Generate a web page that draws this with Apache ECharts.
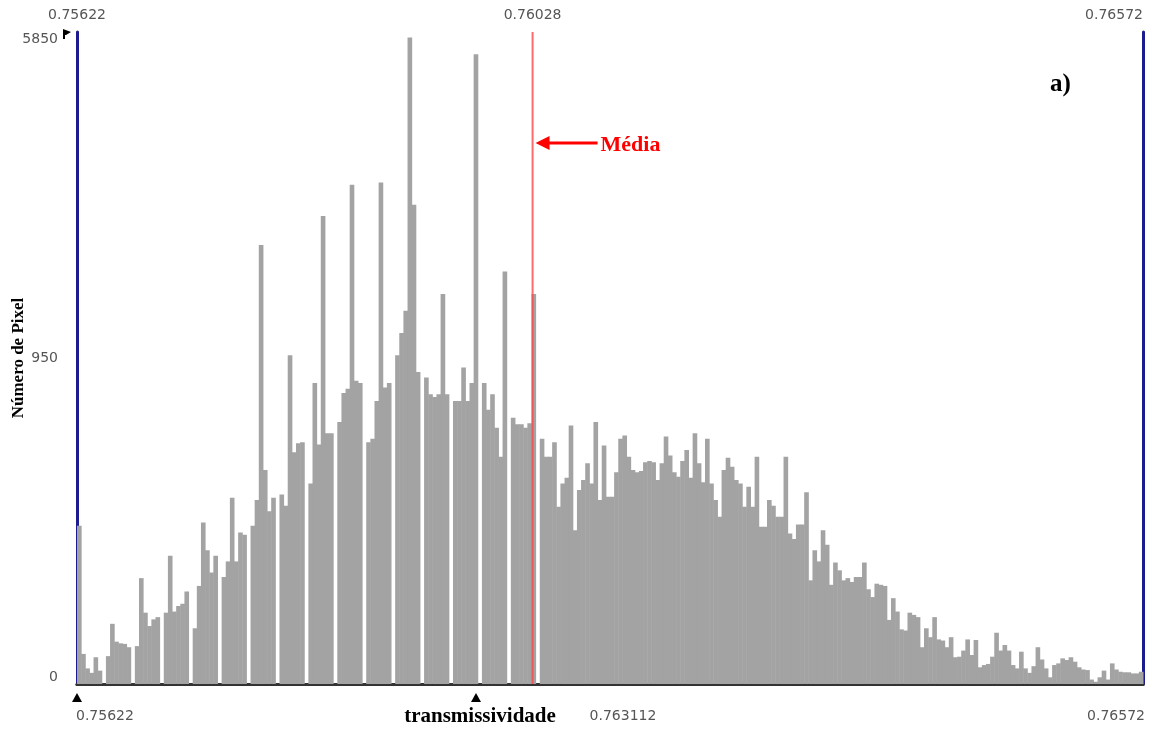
<!DOCTYPE html>
<html>
<head>
<meta charset="utf-8">
<title>Histograma de transmissividade</title>
<script src="https://cdn.jsdelivr.net/npm/echarts@6/dist/echarts.min.js"></script>
<style>
  html, body { margin: 0; padding: 0; background: #fff; }
  #main { width: 1159px; height: 733px; }
</style>
</head>
<body>
<div id="main"></div>
<script>
// histogram range and mean (transmissividade)
const xMin = 0.75622
const xMax = 0.76572
const xMean = 0.76028

// pixel counts per bin (left part: 6 bins + empty bin per tooth)
const pixelCounts = [
    1420, 270, 140, 100, 240, 120, 0,
    250, 540, 380, 365, 360, 330, 0,
    340, 950, 640, 520, 580, 600, 0,
    640, 1150, 650, 700, 720, 830, 0,
    500, 880, 1450, 1200, 1000, 1150, 0,
    960, 1100, 1670, 1100, 1360, 1340, 0,
    1420, 1650, 3940, 1920, 1550, 1670, 0,
    1700, 1600, 2950, 2080, 2160, 2170, 0,
    1800, 2700, 2150, 4200, 2250, 2250, 0,
    2350, 2610, 2650, 4480, 2720, 2700, 0,
    2170, 2200, 2540, 4500, 2660, 2700, 0,
    2950, 3150, 3350, 5800, 4300, 2800, 0,
    2750, 2600, 2575, 2600, 3500, 2600, 0,
    2540, 2540, 2840, 2540, 2700, 5650, 0,
    2700, 2460, 2600, 2300, 2040, 3700, 0,
    2390, 2330, 2330, 2300, 2340, 3500, 0,
    2200, 2040, 2040, 2170, 1590, 1800, 1850, 2320, 1380, 1740,
    1830, 1980, 1800, 2350, 1650, 2140, 1680, 1680, 1900, 2200,
    2230, 2040, 1920, 1900, 1910, 1990, 2000, 1990, 1830, 1980,
    2220, 2050, 1900, 1860, 2000, 2100, 1850, 2250, 1980, 1810,
    2200, 1800, 1650, 1500, 1920, 2030, 1950, 1830, 1800, 1590,
    1770, 1590, 2040, 1410, 1410, 1650, 1600, 1500, 1500, 2040,
    1350, 1300, 1430, 1430, 1720, 930, 1200, 1100, 1380, 1250,
    890, 1090, 1020, 930, 950, 915, 960, 960, 1090, 850,
    780, 900, 890, 880, 575, 770, 650, 490, 480, 640,
    620, 600, 330, 500, 420, 600, 400, 390, 330, 420,
    240, 245, 300, 400, 260, 395, 150, 170, 180, 245,
    460, 300, 350, 300, 170, 140, 290, 140, 100, 160,
    330, 220, 140, 60, 170, 185, 230, 215, 240, 200,
    150, 130, 125, 40, 20, 60, 120, 40, 185, 130,
    110, 105, 105, 95, 95, 110
]

const topTickValues = [0.75622, 0.76028, 0.76572]
const topTickLabels = ['0.75622', '0.76028', '0.76572']
const bottomTickLabels = ['0.75622', '0.763112', '0.76572']
const yMax = 5850
const yInterval = 2925
const yTickLabels = ['0', '950', '5850']

const binWidth = (xMax - xMin) / pixelCounts.length
const bins = pixelCounts.map(function (c, i) {
    return [xMin + i * binWidth, xMin + (i + 1) * binWidth, c]
})

const labelFont = { fontFamily: 'DejaVu Sans', fontSize: 14, color: '#555' }
const serifBold = { fontFamily: 'Liberation Serif', fontWeight: 'bold' }

function renderBin(params, api) {
    const p0 = api.coord([api.value(0), api.value(2)])
    const p1 = api.coord([api.value(1), 0])
    return {
        type: 'rect',
        shape: { x: p0[0], y: p0[1], width: p1[0] - p0[0] + 0.5, height: p1[1] - p0[1] },
        style: { fill: '#a3a3a3' }
    }
}

const myChart = echarts.init(document.getElementById('main'))

const option = {
    animation: false,
    backgroundColor: '#fff',
    grid: { left: 77, right: 16, top: 32, bottom: 49, containLabel: false, outerBoundsMode: 'none' },
    xAxis: [
        {
            type: 'value',
            min: xMin,
            max: xMax,
            position: 'bottom',
            axisLine: { show: true, lineStyle: { color: '#333', width: 3 } },
            axisTick: { show: false },
            axisLabel: { show: false },
            splitLine: { show: false }
        },
        {
            type: 'value',
            min: xMin,
            max: xMax,
            position: 'top',
            axisLine: { show: true, lineStyle: { color: '#333', width: 3 } },
            axisTick: { show: false },
            splitLine: { show: false },
            axisLabel: {
                customValues: topTickValues,
                margin: 10,
                alignMaxLabel: 'right',
                formatter: function (v) {
                    const i = topTickValues.indexOf(v)
                    return i >= 0 ? topTickLabels[i] : ''
                },
                ...labelFont
            }
        }
    ],
    yAxis: [
        {
            type: 'value',
            min: 0,
            max: yMax,
            interval: yInterval,
            position: 'left',
            name: 'Número de Pixel',
            nameLocation: 'middle',
            nameRotate: 90,
            nameGap: 50,
            nameMoveOverlap: false,
            nameTextStyle: { ...serifBold, fontSize: 17, color: '#000' },
            axisLine: { show: true, lineStyle: { color: '#1c1c8f', width: 3 } },
            axisTick: { show: false },
            splitLine: { show: false },
            axisLabel: {
                margin: 19,
                verticalAlignMinLabel: 'bottom',
                verticalAlignMaxLabel: 'top',
                formatter: function (v) {
                    return yTickLabels[Math.round(v / yInterval)]
                },
                ...labelFont
            }
        },
        {
            type: 'value',
            min: 0,
            max: yMax,
            position: 'right',
            axisLine: { show: true, lineStyle: { color: '#1c1c8f', width: 3 } },
            axisTick: { show: false },
            axisLabel: { show: false },
            splitLine: { show: false }
        }
    ],
    series: [
        {
            name: 'pixels',
            type: 'custom',
            xAxisIndex: 0,
            yAxisIndex: 0,
            renderItem: renderBin,
            encode: { x: [0, 1], y: 2 },
            data: bins,
            z: 2
        },
        {
            name: 'media',
            type: 'line',
            xAxisIndex: 0,
            yAxisIndex: 0,
            data: [[xMean, 0], [xMean, yMax]],
            symbol: 'none',
            lineStyle: { color: 'rgba(255, 70, 70, 0.8)', width: 2 },
            z: 3
        }
    ]
}

myChart.setOption(option)

// annotations placed after the scales are known
const meanPx = myChart.convertToPixel({ xAxisIndex: 0 }, xMean)
const startPx = myChart.convertToPixel({ xAxisIndex: 0 }, xMin)
const endPx = myChart.convertToPixel({ xAxisIndex: 0 }, xMax)
const basePx = myChart.convertToPixel({ yAxisIndex: 0 }, 0)
const arrowY = 143

myChart.setOption({
    graphic: [
        // arrow pointing at the mean
        { type: 'line', shape: { x1: meanPx + 12, y1: arrowY, x2: meanPx + 65, y2: arrowY },
          style: { stroke: '#ff0000', lineWidth: 3 } },
        { type: 'polygon', shape: { points: [[meanPx + 3, arrowY], [meanPx + 17, arrowY - 7], [meanPx + 17, arrowY + 7]] },
          style: { fill: '#ff0000' } },
        { type: 'text', x: meanPx + 68, y: arrowY + 2,
          style: { text: 'Média', ...serifBold, fontSize: 22, fill: '#ff0000', verticalAlign: 'middle' } },
        { type: 'text', x: 1050, y: 85,
          style: { text: 'a)', ...serifBold, fontSize: 25, fill: '#000', verticalAlign: 'middle' } },
        // bottom markers and readouts
        { type: 'polygon', shape: { points: [[startPx - 5, basePx + 18], [startPx + 5, basePx + 18], [startPx, basePx + 9]] },
          style: { fill: '#000' } },
        { type: 'polygon', shape: { points: [[471, basePx + 18], [481, basePx + 18], [476, basePx + 9]] },
          style: { fill: '#000' } },
        { type: 'text', x: startPx - 1, y: 716,
          style: { text: bottomTickLabels[0], ...labelFont, fill: '#555', verticalAlign: 'middle', align: 'left' } },
        { type: 'text', x: 623, y: 716,
          style: { text: bottomTickLabels[1], ...labelFont, fill: '#555', verticalAlign: 'middle', align: 'center' } },
        { type: 'text', x: endPx + 2, y: 716,
          style: { text: bottomTickLabels[2], ...labelFont, fill: '#555', verticalAlign: 'middle', align: 'right' } },
        { type: 'text', x: 480, y: 717,
          style: { text: 'transmissividade', ...serifBold, fontSize: 21, fill: '#000', verticalAlign: 'middle', align: 'center' } },
        // small flag at the top-left corner
        { type: 'polygon', shape: { points: [[63, 29], [71, 32], [66, 35], [65, 35], [65, 39], [63, 39]] },
          style: { fill: '#000' } }
    ]
})

window.addEventListener('resize', function () {
    myChart.resize()
})
</script>
</body>
</html>
